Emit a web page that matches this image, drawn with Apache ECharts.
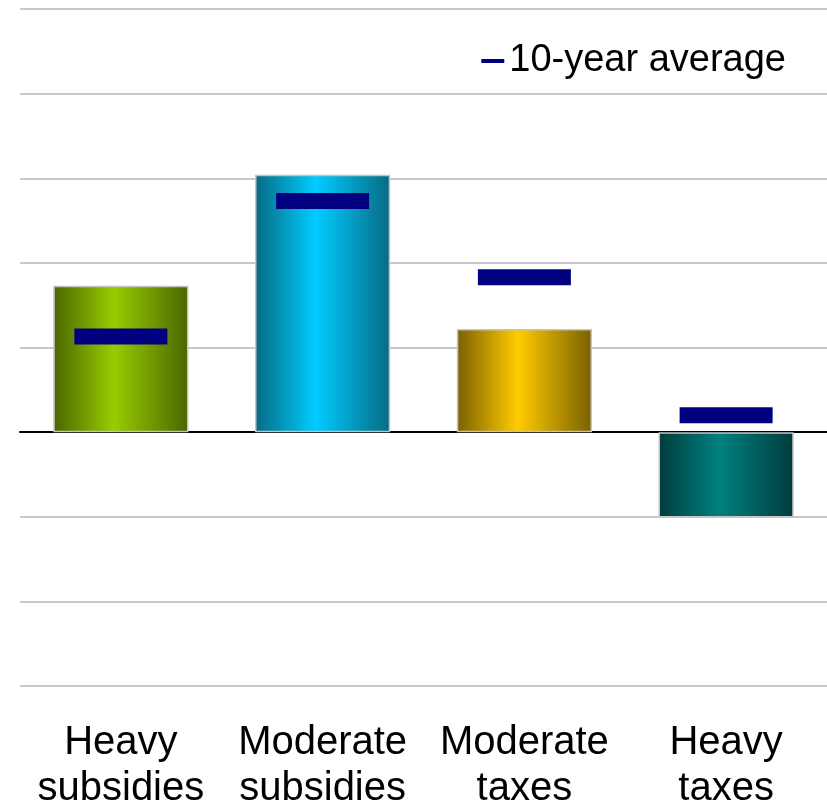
<!DOCTYPE html>
<html>
<head>
<meta charset="utf-8">
<script src="https://cdn.jsdelivr.net/npm/echarts@6/dist/echarts.min.js"></script>
<style>html,body{margin:0;padding:0;background:#fff}#c{width:827px;height:810px}</style>
</head>
<body>
<div id="c"></div>
<script>
var categories = ['Heavy\nsubsidies', 'Moderate\nsubsidies', 'Moderate\ntaxes', 'Heavy\ntaxes'];
var currentValues = [1.73, 3.04, 1.22, -1.01];
var averageValues = [1.13, 2.73, 1.83, 0.2];
var barEdgeColors = ['#4a6600', '#086a84', '#7a6000', '#003c3c'];
var barMidColors = ['#99cc00', '#00ccff', '#ffcc00', '#008080'];

function grad(i) {
  return new echarts.graphic.LinearGradient(0, 0, 1, 0, [
    {offset: 0, color: barEdgeColors[i]},
    {offset: 0.45, color: barMidColors[i]},
    {offset: 1, color: barEdgeColors[i]}
  ]);
}

var chart = echarts.init(document.getElementById('c'), null, {renderer: 'canvas'});
chart.setOption({
  animation: false,
  backgroundColor: '#ffffff',
  textStyle: {fontFamily: 'Liberation Sans, Arial, sans-serif'},
  grid: {left: 20, right: 0, top: 9, bottom: 124, containLabel: false, outerBoundsMode: 'none'},
  legend: {
    data: ['10-year average'],
    right: 36, top: 37,
    icon: 'rect', itemWidth: 23, itemHeight: 4, itemGap: 10,
    textStyle: {fontSize: 38, color: '#000', fontFamily: 'Liberation Sans, Arial, sans-serif'}
  },
  xAxis: {
    type: 'category',
    data: categories,
    axisLine: {onZero: true, lineStyle: {color: '#000', width: 2}},
    axisTick: {show: false},
    axisLabel: {interval: 0, fontSize: 40, lineHeight: 46, color: '#000', margin: 34,
      fontFamily: 'Liberation Sans, Arial, sans-serif'},
    splitLine: {show: false}
  },
  yAxis: {
    type: 'value', min: -3, max: 5, interval: 1,
    axisLine: {show: false}, axisTick: {show: false}, axisLabel: {show: false},
    splitLine: {lineStyle: {color: '#c8c8c8', width: 2}}
  },
  series: [
    {
      name: 'Current',
      type: 'bar',
      barWidth: '67%',
      data: currentValues.map(function (v, i) {
        return {value: v, itemStyle: {color: grad(i), borderColor: '#c4c4c4', borderWidth: 1.5}};
      }),
      z: 2
    },
    {
      name: '10-year average',
      type: 'scatter',
      symbol: 'rect',
      symbolSize: [93, 16],
      itemStyle: {color: '#000080', opacity: 1},
      data: averageValues,
      z: 5
    }
  ]
});
</script>
</body>
</html>
